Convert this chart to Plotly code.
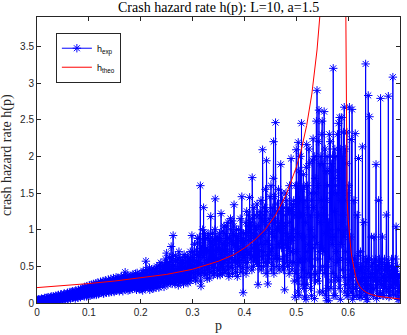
import plotly.graph_objects as go

# sampling grid of the experiment: samples at P_START + i*P_STEP and,
# interleaved, at P_START + (i + 0.5)*P_STEP
P_START = 0.0
P_STEP = 0.00125

h_exp_0_01 = [0.02, 0.04, 0.05, 0.01, 0.03, 0.04, 0.02, 0.06, 0.03, 0.01,
              0.05, 0.03, 0.07, 0.02, 0.04, 0.06, 0.03, 0.08, 0.04, 0.02,
              0.06, 0.04, 0.09, 0.03, 0.07, 0.05, 0.02, 0.08, 0.05, 0.10,
              0.04, 0.07, 0.03, 0.11, 0.06, 0.08, 0.04, 0.12, 0.07, 0.05,
              0.10, 0.06, 0.13, 0.05, 0.09, 0.12, 0.07, 0.14, 0.06, 0.10,
              0.08, 0.15, 0.07, 0.12, 0.09, 0.16, 0.08, 0.13, 0.10, 0.06,
              0.17, 0.09, 0.13, 0.07, 0.18, 0.11, 0.15, 0.08, 0.19, 0.12,
              0.10, 0.20, 0.13, 0.09, 0.21, 0.14, 0.11, 0.23, 0.12, 0.16]
h_exp_01_02 = [0.14, 0.24, 0.10, 0.19, 0.25, 0.12, 0.17, 0.26, 0.11, 0.21,
               0.15, 0.27, 0.13, 0.20, 0.28, 0.12, 0.23, 0.16, 0.29, 0.14,
               0.22, 0.18, 0.30, 0.13, 0.25, 0.17, 0.31, 0.15, 0.24, 0.19,
               0.32, 0.14, 0.26, 0.20, 0.33, 0.16, 0.27, 0.21, 0.34, 0.15,
               0.26, 0.20, 0.35, 0.17, 0.28, 0.22, 0.33, 0.16, 0.29, 0.24,
               0.36, 0.18, 0.30, 0.23, 0.37, 0.19, 0.42, 0.25, 0.31, 0.20,
               0.38, 0.22, 0.32, 0.18, 0.36, 0.26, 0.30, 0.19, 0.39, 0.24,
               0.33, 0.20, 0.40, 0.27, 0.35, 0.21, 0.38, 0.26, 0.34, 0.19]
h_exp_02_03 = [0.21, 0.40, 0.28, 0.17, 0.44, 0.30, 0.22, 0.36, 0.57, 0.32,
               0.22, 0.44, 0.26, 0.37, 0.18, 0.41, 0.29, 0.46, 0.24, 0.34,
               0.20, 0.46, 0.30, 0.39, 0.24, 0.50, 0.27, 0.34, 0.21, 0.43,
               0.23, 0.55, 0.31, 0.38, 0.27, 0.48, 0.22, 0.40, 0.60, 0.35,
               0.68, 0.40, 0.25, 0.52, 0.33, 0.45, 0.28, 0.77, 0.35, 0.50,
               0.92, 0.30, 0.42, 0.26, 0.58, 0.38, 0.30, 0.55, 0.24, 0.70,
               0.36, 0.62, 0.28, 0.44, 0.33, 0.48, 0.26, 0.66, 0.40, 0.31,
               0.56, 0.35, 0.48, 0.27, 0.60, 0.42, 0.30, 0.52, 0.38, 0.92]
h_exp_03_04 = [0.45, 0.62, 0.35, 0.80, 0.50, 0.30, 0.72, 0.42, 0.88, 0.55,
               0.40, 0.68, 1.60, 0.23, 0.70, 0.48, 0.85, 1.30, 0.52, 0.38,
               0.88, 0.45, 0.75, 0.40, 0.95, 0.58, 0.34, 0.82, 1.18, 0.52,
               0.70, 0.95, 0.38, 0.62, 0.85, 1.42, 0.48, 0.60, 0.90, 0.44,
               0.85, 0.45, 0.72, 0.55, 1.22, 0.66, 0.40, 0.98, 0.58, 0.80,
               0.42, 0.78, 1.05, 0.50, 0.88, 0.62, 0.36, 0.90, 0.70, 1.00,
               0.62, 1.12, 0.48, 0.80, 1.34, 0.55, 0.92, 0.70, 0.82, 0.36,
               0.75, 1.00, 0.50, 0.68, 0.95, 0.58, 1.45, 0.85, 0.14, 0.62]
h_exp_04_05 = [0.85, 0.55, 1.10, 0.70, 0.95, 0.48, 1.20, 0.65, 1.44, 0.60,
               0.90, 1.05, 1.71, 0.75, 0.50, 0.90, 1.20, 0.62, 0.75, 1.00,
               0.55, 0.25, 1.05, 0.65, 1.25, 0.80, 0.45, 1.15, 2.09, 0.95,
               0.70, 1.30, 0.55, 1.10, 1.94, 0.85, 0.26, 1.00, 1.15, 0.60,
               0.70, 1.60, 0.95, 1.30, 0.50, 2.20, 0.90, 1.15, 2.46, 0.65,
               0.50, 1.35, 0.80, 1.05, 0.60, 1.25, 1.89, 0.75, 1.05, 1.40,
               0.45, 0.95, 0.18, 1.20, 1.50, 0.65, 0.95, 1.30, 1.25, 0.40,
               1.10, 0.70, 1.97, 1.35, 0.70, 1.00, 1.40, 0.30, 0.08, 1.60]
h_exp_05_06 = [2.09, 0.30, 0.95, 2.19, 0.10, 1.40, 0.60, 1.20, 2.45, 0.25,
               0.45, 1.75, 1.60, 0.08, 1.10, 0.05, 2.16, 0.70, 1.30, 0.80,
               1.90, 0.35, 0.20, 1.50, 1.40, 0.50, 2.24, 0.90, 0.06, 1.70,
               0.40, 2.48, 2.90, 0.60, 1.20, 2.63, 0.15, 1.10, 2.00, 0.75,
               2.48, 0.15, 1.30, 2.61, 0.40, 0.95, 1.80, 0.03, 1.60, 0.50,
               0.03, 2.30, 1.00, 0.90, 0.30, 1.50, 2.00, 3.20, 0.10, 1.25,
               0.10, 2.00, 0.70, 0.55, 1.80, 2.45, 0.20, 2.53, 0.05, 1.40,
               2.53, 0.45, 1.20, 2.33, 2.67, 0.15, 0.25, 1.00, 2.33, 0.60]
h_exp_06_07 = [0.10, 1.60, 2.67, 0.35, 0.90, 2.23, 2.64, 0.05, 0.40, 1.40,
               0.60, 2.31, 0.20, 0.50, 1.20, 0.30, 1.97, 0.45, 0.08, 0.70,
               0.08, 0.45, 2.13, 0.30, 1.10, 0.25, 0.50, 3.26, 0.05, 0.60,
               0.05, 2.83, 0.35, 2.54, 0.40, 0.15, 0.90, 0.20, 0.55, 0.10,
               0.90, 0.35, 0.60, 1.89, 0.06, 0.45, 0.30, 1.40, 0.55, 0.12,
               2.79, 0.25, 0.50, 0.90, 0.35, 0.10, 0.60, 0.50, 0.20, 1.20,
               0.30, 0.45, 2.82, 0.08, 0.50, 0.35, 0.20, 0.60, 0.40, 3.08,
               0.12, 0.45, 0.25, 0.60, 1.04, 0.30, 0.50, 0.05, 0.35, 0.20,
               0.38]

h_mid_0_01 = [0.03, 0.01, 0.04, 0.02, 0.05, 0.01, 0.04, 0.02, 0.05, 0.03,
              0.02, 0.06, 0.04, 0.01, 0.07, 0.03, 0.05, 0.02, 0.06, 0.04,
              0.08, 0.02, 0.05, 0.07, 0.03, 0.09, 0.04, 0.06, 0.03, 0.07,
              0.09, 0.05, 0.10, 0.04, 0.08, 0.05, 0.11, 0.06, 0.09, 0.04,
              0.07, 0.12, 0.08, 0.10, 0.06, 0.09, 0.13, 0.05, 0.11, 0.08,
              0.13, 0.06, 0.10, 0.15, 0.07, 0.11, 0.14, 0.09, 0.16, 0.08,
              0.12, 0.15, 0.10, 0.17, 0.09, 0.14, 0.11, 0.18, 0.10, 0.15,
              0.19, 0.11, 0.16, 0.22, 0.12, 0.18, 0.09, 0.15, 0.20, 0.13]
h_mid_01_02 = [0.20, 0.12, 0.22, 0.14, 0.11, 0.23, 0.15, 0.20, 0.13, 0.25,
               0.18, 0.11, 0.24, 0.16, 0.21, 0.26, 0.14, 0.19, 0.22, 0.27,
               0.15, 0.28, 0.13, 0.20, 0.29, 0.22, 0.14, 0.27, 0.17, 0.25,
               0.16, 0.30, 0.22, 0.28, 0.15, 0.24, 0.31, 0.18, 0.26, 0.29,
               0.17, 0.31, 0.23, 0.19, 0.34, 0.26, 0.18, 0.30, 0.21, 0.35,
               0.25, 0.32, 0.16, 0.28, 0.21, 0.33, 0.28, 0.19, 0.36, 0.27,
               0.17, 0.35, 0.26, 0.30, 0.21, 0.33, 0.37, 0.23, 0.28, 0.35,
               0.22, 0.37, 0.30, 0.18, 0.41, 0.24, 0.32, 0.19, 0.29, 0.36]
h_mid_02_03 = [0.33, 0.19, 0.36, 0.42, 0.24, 0.39, 0.31, 0.20, 0.26, 0.45,
               0.38, 0.30, 0.21, 0.48, 0.33, 0.25, 0.39, 0.20, 0.42, 0.28,
               0.36, 0.26, 0.44, 0.21, 0.47, 0.32, 0.42, 0.28, 0.52, 0.37,
               0.45, 0.26, 0.42, 0.50, 0.33, 0.29, 0.53, 0.36, 0.46, 0.27,
               0.30, 0.55, 0.46, 0.29, 0.62, 0.39, 0.57, 0.42, 0.26, 0.63,
               0.44, 0.52, 0.34, 0.65, 0.30, 0.47, 0.60, 0.36, 0.44, 0.32,
               0.50, 0.40, 0.55, 0.35, 0.58, 0.29, 0.54, 0.37, 0.50, 0.63,
               0.42, 0.29, 0.64, 0.45, 0.34, 0.56, 0.70, 0.33, 0.46, 0.58]
h_mid_03_04 = [0.70, 0.40, 0.58, 0.48, 0.33, 0.66, 0.55, 0.82, 0.38, 0.65,
               0.90, 0.52, 0.30, 0.78, 0.42, 1.00, 0.62, 0.40, 0.95, 0.72,
               0.55, 0.68, 0.33, 0.90, 0.48, 0.72, 0.88, 0.60, 0.42, 0.85,
               0.48, 0.58, 0.80, 0.40, 1.00, 0.55, 0.90, 0.75, 0.38, 0.72,
               0.60, 0.95, 0.38, 0.88, 0.50, 0.82, 0.72, 0.45, 1.05, 0.62,
               0.95, 0.55, 0.70, 0.45, 1.10, 0.40, 0.82, 0.55, 1.15, 0.48,
               0.85, 0.40, 0.95, 1.05, 0.60, 0.78, 0.42, 1.00, 0.58, 0.90,
               0.55, 0.85, 0.70, 1.15, 0.42, 0.88, 0.65, 0.48, 0.95, 0.75]
h_mid_04_05 = [0.65, 0.95, 0.40, 1.25, 0.55, 1.05, 0.85, 1.00, 0.70, 1.10,
               0.65, 0.45, 1.15, 0.95, 1.30, 0.60, 0.80, 1.05, 0.55, 1.35,
               0.90, 0.70, 1.20, 0.50, 0.90, 1.40, 0.70, 0.60, 1.20, 0.50,
               1.10, 0.80, 1.55, 0.40, 1.25, 0.65, 1.05, 0.55, 0.80, 1.45,
               1.20, 0.45, 1.10, 0.75, 1.70, 0.40, 1.45, 0.60, 1.10, 1.00,
               1.25, 0.60, 1.55, 0.45, 1.00, 0.80, 1.10, 1.50, 0.50, 0.85,
               1.30, 0.60, 1.05, 0.80, 0.55, 1.40, 0.50, 0.75, 0.90, 1.60,
               0.55, 1.25, 0.85, 0.45, 1.30, 0.55, 0.90, 1.20, 1.35, 0.40]
h_mid_05_06 = [0.70, 1.60, 0.15, 1.20, 1.80, 0.55, 2.00, 0.35, 0.90, 1.55,
               1.20, 0.20, 0.90, 1.40, 0.60, 1.85, 0.25, 1.60, 0.40, 2.10,
               0.60, 1.20, 1.00, 0.10, 1.95, 0.75, 1.30, 0.40, 2.00, 0.30,
               1.50, 0.80, 1.60, 0.30, 2.20, 0.70, 1.90, 0.45, 1.40, 2.30,
               0.50, 1.90, 0.70, 1.20, 2.10, 0.10, 1.40, 2.00, 0.20, 1.10,
               1.80, 0.60, 2.20, 0.20, 1.90, 0.80, 0.40, 1.70, 0.90, 2.10,
               1.60, 0.35, 1.50, 2.30, 0.30, 1.00, 1.70, 0.60, 2.10, 0.80,
               1.10, 2.00, 0.35, 0.90, 1.40, 2.10, 0.70, 1.90, 0.10, 1.50]
h_mid_06_07 = [0.30, 0.55, 0.20, 0.45, 0.15, 0.35, 0.60, 0.25, 0.10, 0.50,
               0.40, 0.20, 0.55, 0.10, 0.35, 0.65, 0.25, 0.15, 0.45, 0.30,
               0.50, 0.20, 0.35, 0.60, 0.15, 0.40, 0.10, 0.55, 0.30, 0.20,
               0.45, 0.25, 0.60, 0.15, 0.35, 0.50, 0.20, 0.40, 0.10, 0.30,
               0.35, 0.55, 0.20, 0.45, 0.25, 0.10, 0.50, 0.30, 0.60, 0.15,
               0.40, 0.25, 0.55, 0.10, 0.35, 0.45, 0.20, 0.30, 0.50, 0.15,
               0.55, 0.35, 0.20, 0.45, 0.10, 0.40, 0.25, 0.50, 0.15, 0.35,
               0.20, 0.45, 0.30, 0.10, 0.40, 0.25, 0.15, 0.35, 0.05, 0.20]

h_grid = (h_exp_0_01 + h_exp_01_02 + h_exp_02_03 + h_exp_03_04 +
          h_exp_04_05 + h_exp_05_06 + h_exp_06_07)
h_half = (h_mid_0_01 + h_mid_01_02 + h_mid_02_03 + h_mid_03_04 +
          h_mid_04_05 + h_mid_05_06 + h_mid_06_07)
samples = ([(P_START + i * P_STEP, v) for i, v in enumerate(h_grid)] +
           [(P_START + (i + 0.5) * P_STEP, v) for i, v in enumerate(h_half)])
samples.sort()
p_exp = [round(s[0], 7) for s in samples]
h_exp = [s[1] for s in samples]

# theoretical hazard rate
p_theo = [0, 0.05, 0.1, 0.15, 0.2, 0.25, 0.3, 0.35, 0.38, 0.4, 0.42, 0.44,
          0.46, 0.48, 0.5, 0.51, 0.52, 0.53, 0.54, 0.55, 0.56, 0.57, 0.58,
          0.59, 0.595, 0.597, 0.598, 0.6, 0.602, 0.605, 0.607, 0.61, 0.614,
          0.617, 0.622, 0.628, 0.636, 0.645, 0.655, 0.67, 0.685, 0.7]
h_theo = [0.21, 0.235, 0.265, 0.30, 0.34, 0.39, 0.46, 0.57, 0.66, 0.75,
          0.86, 1.0, 1.2, 1.47, 1.85, 2.1, 2.42, 2.85, 3.45, 4.3, 6, 9, 15,
          40, 4.5, 2.0, 1.4, 1.15, 0.96, 0.75, 0.63, 0.5, 0.38, 0.3, 0.23,
          0.18, 0.14, 0.115, 0.095, 0.08, 0.065, 0.055]

x_ticks = [0, 0.1, 0.2, 0.3, 0.4, 0.5, 0.6, 0.7]
x_tick_labels = ["0", "0.1", "0.2", "0.3", "0.4", "0.5", "0.6", "0.7"]
y_ticks = [0, 0.5, 1, 1.5, 2, 2.5, 3, 3.5]
y_tick_labels = ["0", "0.5", "1", "1.5", "2", "2.5", "3", "3.5"]

AX = "#262626"
SERIF = "Liberation Serif, Times New Roman, serif"
SANS = "Liberation Sans, Arial, Helvetica, sans-serif"

fig = go.Figure()
fig.add_trace(go.Scatter(
    x=p_exp, y=h_exp, mode="lines+markers", name="h<sub>exp</sub>",
    line=dict(color="#0000FF", width=1),
    marker=dict(symbol="asterisk-open", size=7,
                line=dict(color="#0000FF", width=1)),
))
fig.add_trace(go.Scatter(
    x=p_theo, y=h_theo, mode="lines", name="h<sub>theo</sub>",
    line=dict(color="#FF0000", width=1),
))

fig.update_layout(
    width=407, height=335,
    margin=dict(l=37, r=7, t=17, b=32, autoexpand=False),
    paper_bgcolor="white", plot_bgcolor="white",
    showlegend=True,
    legend=dict(x=0.052, y=0.945, xanchor="left", yanchor="top",
                bgcolor="white", bordercolor=AX, borderwidth=1,
                font=dict(family=SANS, size=9, color="black"),
                itemwidth=30, tracegroupgap=0),
    xaxis=dict(range=[0, 0.7], tickvals=x_ticks, ticktext=x_tick_labels,
               showline=True, linecolor=AX, linewidth=1, mirror="ticks",
               ticks="inside", ticklen=4, tickcolor=AX, showgrid=False,
               zeroline=False, automargin=False,
               tickfont=dict(family=SANS, size=10, color=AX)),
    yaxis=dict(range=[0, 3.9], tickvals=y_ticks, ticktext=y_tick_labels,
               showline=True, linecolor=AX, linewidth=1, mirror="ticks",
               ticks="inside", ticklen=4, tickcolor=AX, showgrid=False,
               zeroline=False, automargin=False,
               tickfont=dict(family=SANS, size=10, color=AX)),
    annotations=[
        dict(text="Crash hazard rate h(p): L=10, a=1.5", xref="paper",
             yref="paper", x=0.5, y=1.0, yshift=9, xanchor="center",
             yanchor="middle", showarrow=False,
             font=dict(family=SERIF, size=14, color="black")),
        dict(text="p", xref="paper", yref="paper", x=0.5, y=0,
             yshift=-22, xanchor="center", yanchor="middle",
             showarrow=False,
             font=dict(family=SERIF, size=14, color=AX)),
        dict(text="crash hazard rate h(p)", xref="paper", yref="paper",
             x=0, xshift=-30, y=0.5, yshift=5, xanchor="center",
             yanchor="middle", textangle=-90, showarrow=False,
             font=dict(family=SERIF, size=14, color=AX)),
    ],
)

fig.write_html(
    "out.html",
    config={"displayModeBar": False},
    post_script="document.body.style.margin='0';document.body.style.padding='0';",
)
